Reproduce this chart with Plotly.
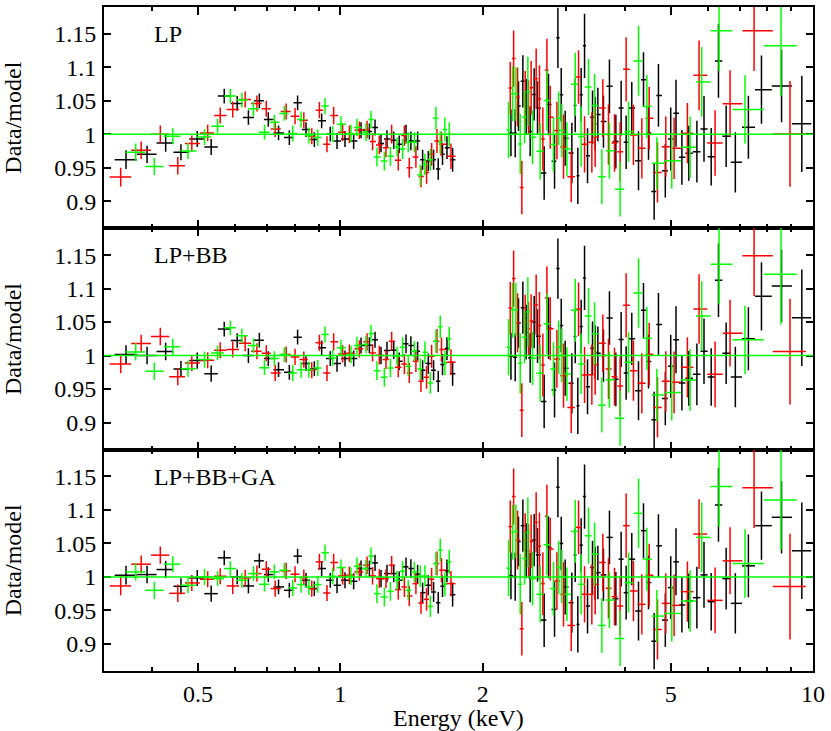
import numpy as np
import plotly.graph_objects as go
from plotly.subplots import make_subplots

# ---------------- energies (keV) ----------------
E_LO_K = [0.352, 0.390, 0.427, 0.460, 0.498, 0.533, 0.568, 0.605, 0.639, 0.674, 0.704, 0.740, 0.780, 0.812, 0.846, 0.881, 0.913, 0.952, 0.984, 1.023, 1.067, 1.106, 1.152, 1.184, 1.219, 1.255, 1.297, 1.332, 1.377, 1.410, 1.457, 1.493, 1.535, 1.575, 1.611, 1.645, 1.681, 1.728]
E_LO_R = [0.343, 0.379, 0.416, 0.453, 0.485, 0.524, 0.557, 0.592, 0.629, 0.666, 0.697, 0.728, 0.768, 0.802, 0.837, 0.870, 0.903, 0.937, 0.968, 1.011, 1.045, 1.097, 1.139, 1.170, 1.209, 1.249, 1.284, 1.326, 1.366, 1.399, 1.445, 1.481, 1.522, 1.560, 1.601, 1.637, 1.714]
E_LO_G = [0.369, 0.404, 0.442, 0.476, 0.516, 0.550, 0.585, 0.619, 0.655, 0.691, 0.725, 0.761, 0.793, 0.826, 0.858, 0.896, 0.928, 0.963, 1.003, 1.053, 1.084, 1.133, 1.161, 1.195, 1.239, 1.276, 1.318, 1.354, 1.392, 1.434, 1.476, 1.510, 1.550, 1.593, 1.627, 1.664, 1.700]
E_HI_K = [2.296, 2.344, 2.382, 2.433, 2.473, 2.521, 2.571, 2.613, 2.699, 2.757, 2.839, 2.886, 2.933, 2.990, 3.089, 3.140, 3.180, 3.232, 3.286, 3.334, 3.416, 3.461, 3.506, 3.603, 3.710, 3.827, 3.927, 4.024, 4.136, 4.274, 4.379, 4.487, 4.612, 4.71, 4.87, 5.0, 5.13, 5.28, 5.46, 5.68, 5.88, 6.09, 6.31, 6.55, 6.85, 7.3, 7.78, 8.58, 9.47]
E_HI_R = [2.288, 2.326, 2.371, 2.421, 2.461, 2.501, 2.533, 2.596, 2.638, 2.682, 2.735, 2.780, 2.872, 2.966, 3.079, 3.191, 3.286, 3.405, 3.461, 3.592, 3.692, 3.802, 3.908, 4.024, 4.170, 4.344, 4.502, 4.688, 4.882, 5.083, 5.424, 5.741, 6.206, 6.676, 7.505, 8.94]
E_HI_G = [2.269, 2.314, 2.352, 2.402, 2.453, 2.493, 2.550, 2.647, 2.735, 2.825, 2.895, 2.942, 3.015, 3.140, 3.232, 3.350, 3.450, 3.575, 3.710, 3.908, 4.07, 4.274, 4.451, 4.673, 5.026, 5.495, 5.815, 6.327, 7.18, 8.556]

# ---------------- 1-sigma errors on ratio ----------------
ERR_LO_K = [0.014, 0.013, 0.013, 0.012, 0.012, 0.012, 0.011, 0.011, 0.011, 0.011, 0.011, 0.011, 0.011, 0.011, 0.011, 0.011, 0.011, 0.011, 0.012, 0.012, 0.012, 0.012, 0.012, 0.012, 0.013, 0.013, 0.013, 0.013, 0.014, 0.014, 0.014, 0.015, 0.015, 0.015, 0.016, 0.016, 0.017, 0.018]
ERR_LO_R = [0.014, 0.013, 0.013, 0.013, 0.012, 0.012, 0.012, 0.012, 0.012, 0.012, 0.012, 0.012, 0.012, 0.012, 0.012, 0.012, 0.012, 0.012, 0.013, 0.013, 0.013, 0.013, 0.013, 0.013, 0.014, 0.014, 0.014, 0.015, 0.015, 0.015, 0.016, 0.016, 0.017, 0.017, 0.018, 0.018, 0.019]
ERR_LO_G = [0.013, 0.013, 0.012, 0.012, 0.012, 0.011, 0.011, 0.011, 0.011, 0.011, 0.011, 0.011, 0.012, 0.012, 0.012, 0.012, 0.012, 0.012, 0.012, 0.013, 0.013, 0.013, 0.013, 0.014, 0.014, 0.014, 0.014, 0.015, 0.015, 0.015, 0.016, 0.016, 0.016, 0.017, 0.017, 0.018, 0.018]
ERR_HI_K = [0.035, 0.036, 0.037, 0.039, 0.041, 0.037, 0.039, 0.04, 0.04, 0.046, 0.041, 0.045, 0.04, 0.041, 0.045, 0.04, 0.042, 0.04, 0.048, 0.041, 0.04, 0.04, 0.04, 0.039, 0.04, 0.04, 0.041, 0.04, 0.039, 0.044, 0.041, 0.04, 0.042, 0.047, 0.04, 0.047, 0.05, 0.041, 0.041, 0.046, 0.049, 0.043, 0.055, 0.046, 0.045, 0.047, 0.051, 0.054, 0.072]
ERR_HI_R = [0.039, 0.042, 0.044, 0.04, 0.04, 0.04, 0.04, 0.045, 0.05, 0.047, 0.047, 0.047, 0.043, 0.048, 0.038, 0.04, 0.042, 0.045, 0.045, 0.043, 0.045, 0.043, 0.044, 0.048, 0.045, 0.045, 0.047, 0.045, 0.045, 0.046, 0.045, 0.052, 0.049, 0.05, 0.06, 0.079]
ERR_HI_G = [0.042, 0.041, 0.04, 0.045, 0.039, 0.052, 0.04, 0.042, 0.045, 0.04, 0.04, 0.04, 0.04, 0.047, 0.045, 0.042, 0.047, 0.041, 0.042, 0.041, 0.045, 0.052, 0.047, 0.039, 0.042, 0.046, 0.052, 0.06, 0.051, 0.075]

# ---------------- panel 1: LP ----------------
LP_LO_K = [0.962, 0.970, 0.987, 0.973, 0.993, 0.981, 1.057, 1.046, 1.025, 1.050, 1.022, 1.002, 0.995, 1.047, 1.007, 0.992, 1.020, 1.000, 0.990, 0.993, 0.990, 1.006, 1.004, 1.010, 0.986, 0.993, 0.991, 0.985, 1.000, 0.990, 0.990, 0.962, 0.960, 0.962, 0.948, 0.970, 0.980, 0.962]
LP_LO_R = [0.936, 0.976, 1.000, 0.953, 0.986, 1.002, 1.028, 1.037, 1.052, 1.046, 1.038, 1.008, 1.034, 1.027, 1.021, 0.997, 1.036, 0.985, 1.028, 1.003, 1.000, 1.006, 1.007, 0.989, 0.984, 0.980, 1.000, 0.961, 0.998, 0.950, 0.966, 0.937, 0.943, 0.970, 0.990, 0.985, 0.967]
LP_LO_G = [0.973, 0.952, 0.997, 0.975, 0.996, 1.012, 1.057, 1.051, 1.038, 1.003, 1.018, 1.031, 1.001, 1.022, 0.998, 0.995, 1.042, 1.000, 1.015, 1.001, 1.010, 1.003, 1.022, 0.966, 0.960, 0.967, 0.981, 0.978, 0.988, 0.988, 0.939, 0.955, 0.962, 1.024, 0.988, 1.007, 1.000]
LP_HI_K = [1.002, 1.0015, 1.042, 1.079, 1.0415, 1.004, 1.0595, 1.039, 0.942, 1.0445, 0.9595, 1.144, 1.059, 0.994, 0.972, 1.043, 0.938, 1.059, 1.132, 0.968, 1.0255, 1.0155, 1.0295, 1.019, 1.0715, 0.989, 1.039, 0.988, 1.039, 0.9605, 1.0815, 1.002, 0.9145, 1.058, 0.9455, 0.993, 1.0315, 0.9655, 0.9715, 0.974, 1.008, 0.9665, 1.1095, 0.997, 0.958, 1.0105, 1.0665, 1.072, 1.0155]
LP_HI_R = [1.069, 1.113, 1.0555, 0.9205, 1.0545, 1.0405, 1.0695, 1.083, 1.053, 0.993, 1.0955, 1.0255, 1.0055, 0.9815, 0.9365, 1.0855, 0.985, 0.988, 0.996, 1.039, 0.9995, 0.987, 0.974, 1.097, 0.999, 0.979, 1.024, 0.943, 0.9815, 0.979, 1.0015, 1.088, 0.987, 1.0455, 1.1545, 1.0005]
LP_HI_G = [1.0065, 1.0605, 1.06, 0.9855, 1.0255, 1.064, 0.9955, 0.9745, 1.0505, 0.9845, 1.024, 1.0055, 0.978, 1.0745, 0.9965, 1.0705, 1.043, 0.9365, 0.9755, 0.918, 1.004, 1.1095, 1.0415, 0.9565, 0.9605, 0.9805, 1.078, 1.1545, 1.037, 1.132]

# ---------------- panel 2: LP+BB ----------------
LPBB_LO_K = [1.0015, 1.0, 1.006, 0.980, 0.9925, 0.973, 1.0395, 1.0225, 1.0, 1.023, 0.9955, 0.979, 0.975, 1.0275, 0.988, 0.9805, 1.0115, 0.9955, 0.988, 0.9955, 0.9955, 1.015, 1.0155, 1.0235, 1.0, 1.0075, 1.008, 0.9915, 1.0175, 1.015, 1.0065, 0.978, 0.988, 0.978, 0.9615, 0.9865, 1.0105, 0.973]
LPBB_LO_R = [0.9875, 1.018, 1.0285, 0.9685, 0.989, 0.993, 1.008, 1.009, 1.0185, 1.0065, 1.0035, 0.974, 1.0015, 0.998, 0.994, 0.978, 1.019, 0.974, 1.0205, 1.0025, 1.0035, 1.01, 1.0205, 1.004, 1.0005, 0.994, 1.0215, 0.9825, 0.9875, 0.974, 0.9915, 0.9615, 0.9675, 0.999, 1.0215, 1.009, 0.99]
LPBB_LO_G = [1.0055, 0.9765, 1.013, 0.9805, 0.994, 1.004, 1.0415, 1.0295, 1.015, 0.982, 0.9955, 1.0015, 0.974, 0.979, 0.979, 0.9815, 1.0315, 0.9965, 1.0115, 1.0015, 1.015, 1.0165, 1.0325, 0.9775, 0.9675, 0.9815, 0.999, 1.0125, 0.984, 1.0065, 0.98, 1.005, 0.959, 1.0215, 1.043, 0.989, 1.025]
LPBB_HI_K = [0.999, 0.9975, 1.0485, 1.0715, 1.035, 0.9965, 1.05, 1.029, 0.9315, 1.041, 0.9485, 1.13, 1.045, 0.981, 0.9585, 1.0285, 0.925, 1.0435, 1.116, 0.9535, 1.011, 1.005, 1.0035, 1.0, 1.056, 0.9645, 1.024, 0.974, 1.025, 0.9475, 1.0675, 0.991, 0.904, 1.0465, 0.936, 0.984, 1.0235, 0.959, 0.966, 0.972, 1.0065, 0.968, 1.1125, 1.0035, 0.968, 1.025, 1.0885, 1.104, 1.0565]
LPBB_HI_R = [1.071, 1.115, 1.049, 0.9185, 1.051, 1.04, 1.0515, 1.076, 1.045, 0.986, 1.086, 1.04, 0.995, 0.97, 0.9225, 1.069, 0.971, 0.9715, 0.9865, 1.0185, 0.98, 0.9685, 0.9545, 1.075, 0.9775, 0.9585, 1.002, 0.9225, 0.9615, 0.96, 0.9825, 1.0695, 0.972, 1.0335, 1.149, 1.006]
LPBB_HI_G = [1.0125, 1.0675, 1.0685, 0.9885, 1.0275, 1.065, 0.996, 0.9735, 1.0475, 0.98, 1.0125, 1.0, 0.9725, 1.0675, 0.9875, 1.059, 1.0325, 0.926, 0.964, 0.9065, 0.99, 1.0935, 1.026, 0.941, 0.945, 0.9635, 1.059, 1.1365, 1.0235, 1.1215]

# ---------------- panel 3: LP+BB+GA ----------------
LPBBGA_LO_K = [1.0025, 1.0035, 1.011, 0.986, 0.9985, 0.975, 1.0285, 1.0, 0.9865, 1.024, 1.0035, 0.985, 0.98, 1.031, 0.995, 0.9825, 1.0125, 0.995, 0.9875, 0.995, 0.9935, 1.0125, 1.0125, 1.021, 0.9975, 1.005, 1.005, 0.995, 1.015, 1.0125, 1.004, 0.9765, 0.9875, 0.9775, 0.9615, 0.986, 1.009, 0.9735]
LPBBGA_LO_R = [0.9865, 1.019, 1.0325, 0.9755, 0.991, 0.9965, 1.001, 0.9865, 0.9985, 1.005, 1.0115, 0.9825, 1.009, 1.004, 0.999, 0.9825, 1.0225, 0.976, 1.0215, 1.0015, 1.0025, 1.0075, 1.0175, 1.0015, 0.9975, 0.9975, 1.0175, 0.981, 0.985, 0.9715, 0.99, 0.961, 0.9665, 0.9965, 1.02, 1.01, 0.99]
LPBBGA_LO_G = [1.0075, 0.98, 1.019, 0.9875, 1.0, 0.9975, 1.0125, 0.995, 1.005, 0.989, 1.0075, 1.01, 0.9835, 0.9885, 0.985, 0.9885, 1.036, 1.001, 1.014, 1.001, 1.016, 1.0125, 1.031, 0.975, 0.97, 0.9785, 0.995, 1.0085, 0.98, 1.0075, 1.001, 1.0015, 0.956, 1.02, 1.04, 0.989, 1.0225]
LPBBGA_HI_K = [1.0015, 1.0005, 1.053, 1.0765, 1.039, 0.999, 1.055, 1.033, 0.9355, 1.044, 0.9515, 1.134, 1.05, 0.985, 0.9615, 1.0325, 0.929, 1.0475, 1.12, 0.9565, 1.014, 1.005, 1.0065, 1.003, 1.059, 0.9675, 1.0265, 0.9765, 1.0265, 0.949, 1.069, 0.9915, 0.904, 1.0465, 0.9355, 0.984, 1.0225, 0.958, 0.964, 0.969, 1.003, 0.963, 1.1075, 0.9975, 0.9605, 1.0165, 1.0765, 1.089, 1.039]
LPBBGA_HI_R = [1.075, 1.12, 1.055, 0.9225, 1.055, 1.039, 1.053, 1.0815, 1.046, 0.99, 1.0905, 1.0415, 0.994, 0.974, 0.9275, 1.074, 0.974, 0.974, 0.989, 1.0215, 0.983, 0.9705, 0.9565, 1.0765, 0.979, 0.959, 1.0025, 0.9215, 0.9605, 0.9575, 0.978, 1.064, 0.965, 1.024, 1.133, 0.9855]
LPBBGA_HI_G = [1.013, 1.0665, 1.068, 0.989, 1.0275, 1.0665, 0.9975, 0.974, 1.048, 0.9825, 1.014, 1.0005, 0.974, 1.068, 0.989, 1.0615, 1.034, 0.9275, 0.9655, 0.908, 0.9915, 1.095, 1.0265, 0.9415, 0.9455, 0.964, 1.059, 1.135, 1.02, 1.115]

PANEL_LABELS = ["LP", "LP+BB", "LP+BB+GA"]
X_TICKS = [0.5, 1, 2, 5, 10]
X_TICK_TEXT = ["0.5", "1", "2", "5", "10"]
X_MINOR = [0.4, 0.6, 0.7, 0.8, 0.9, 3, 4, 6, 7, 8, 9]
Y_TICKS = [0.9, 0.95, 1.0, 1.05, 1.1, 1.15]
Y_TICK_TEXT = ["0.9", "0.95", "1", "1.05", "1.1", "1.15"]

COLORS = {"k": "#000000", "r": "#ff0000", "g": "#00ff00"}
E_LO = {"k": E_LO_K, "r": E_LO_R, "g": E_LO_G}
E_HI = {"k": E_HI_K, "r": E_HI_R, "g": E_HI_G}
ERR_LO = {"k": ERR_LO_K, "r": ERR_LO_R, "g": ERR_LO_G}
ERR_HI = {"k": ERR_HI_K, "r": ERR_HI_R, "g": ERR_HI_G}
PANELS = [
    {"k": (LP_LO_K, LP_HI_K), "r": (LP_LO_R, LP_HI_R), "g": (LP_LO_G, LP_HI_G)},
    {"k": (LPBB_LO_K, LPBB_HI_K), "r": (LPBB_LO_R, LPBB_HI_R), "g": (LPBB_LO_G, LPBB_HI_G)},
    {"k": (LPBBGA_LO_K, LPBBGA_HI_K), "r": (LPBBGA_LO_R, LPBBGA_HI_R), "g": (LPBBGA_LO_G, LPBBGA_HI_G)},
]


def half_widths(e):
    """Half bin widths from contiguous bins (edges at midpoints between neighbours)."""
    e = np.asarray(e, float)
    mid = 0.5 * (e[1:] + e[:-1])
    lo = np.r_[e[0] - (mid[0] - e[0]), mid]
    hi = np.r_[mid, e[-1] + (e[-1] - mid[-1])]
    return hi - e, e - lo


FONT = "Liberation Serif"
FS = 24
fig = make_subplots(rows=3, cols=1, shared_xaxes=True, vertical_spacing=0)

for row, pdata in enumerate(PANELS, start=1):
    for key in ["k", "r", "g"]:
        segs = [(E_LO[key], pdata[key][0], ERR_LO[key]), (E_HI[key], pdata[key][1], ERR_HI[key])]
        for e, v, err in segs:
            if not (len(e) == len(v) == len(err)):
                raise ValueError(f"length mismatch row {row} {key}: {len(e)} {len(v)} {len(err)}")
            plus, minus = half_widths(e)
            c = COLORS[key]
            fig.add_trace(go.Scatter(
                x=e, y=v, mode="markers",
                marker=dict(size=1, color=c),
                error_x=dict(type="data", symmetric=False, array=plus, arrayminus=minus,
                             color=c, thickness=1.5, width=0),
                error_y=dict(type="data", array=err, color=c, thickness=1.5, width=0),
                showlegend=False, hoverinfo="skip",
            ), row=row, col=1)
    fig.add_hline(y=1.0, line=dict(color="#00ff00", width=1.5), row=row, col=1)

axis_common = dict(showline=True, linewidth=2, linecolor="black", mirror="ticks",
                   showgrid=False, zeroline=False, ticks="inside", tickcolor="black",
                   tickwidth=1.5, tickfont=dict(family=FONT, size=FS, color="black"))

fig.update_xaxes(type="log", range=[np.log10(0.3162), 1.0], tickvals=X_TICKS, ticktext=X_TICK_TEXT,
                 ticklen=8, ticklabelstandoff=0,
                 minor=dict(tickvals=X_MINOR, ticks="inside", ticklen=4, tickwidth=1.5, tickcolor="black"),
                 **axis_common)
fig.update_yaxes(range=[0.8595, 1.19], tickvals=Y_TICKS, ticktext=Y_TICK_TEXT, ticklen=7,
                 ticklabelstandoff=1, **axis_common)

W, H = 831, 731
ML, MR, MT, MB = 104, 18, 7, 60
plot_h = H - MT - MB
plot_w = W - ML - MR


def px_to_paper_y(py):
    return 1 - (py - MT) / plot_h


def px_to_paper_x(px):
    return (px - ML) / plot_w


ann = []
label_py = [34, 255.3, 476.7]
center_y = [5 / 6, 0.5, 1 / 6]
for i in range(3):
    ann.append(dict(text=PANEL_LABELS[i], x=px_to_paper_x(152), y=px_to_paper_y(label_py[i]),
                    xref="paper", yref="paper", xanchor="left", yanchor="middle", showarrow=False,
                    font=dict(family=FONT, size=FS, color="black")))
    ann.append(dict(text="Data/model", x=px_to_paper_x(13), y=center_y[i], xref="paper", yref="paper",
                    xanchor="center", yanchor="middle", textangle=-90, showarrow=False,
                    font=dict(family=FONT, size=FS, color="black")))
ann.append(dict(text="Energy (keV)", x=0.5, y=px_to_paper_y(718), xref="paper", yref="paper",
                xanchor="center", yanchor="middle", showarrow=False,
                font=dict(family=FONT, size=FS, color="black")))

fig.update_layout(width=W, height=H, margin=dict(l=ML, r=MR, t=MT, b=MB, autoexpand=False),
                  paper_bgcolor="white", plot_bgcolor="white", annotations=ann)

# remove the browser's default 8px page margin so the figure fills the window exactly
fig.write_html("out.html", config={"displayModeBar": False},
               post_script="document.body.style.margin='0px';")
